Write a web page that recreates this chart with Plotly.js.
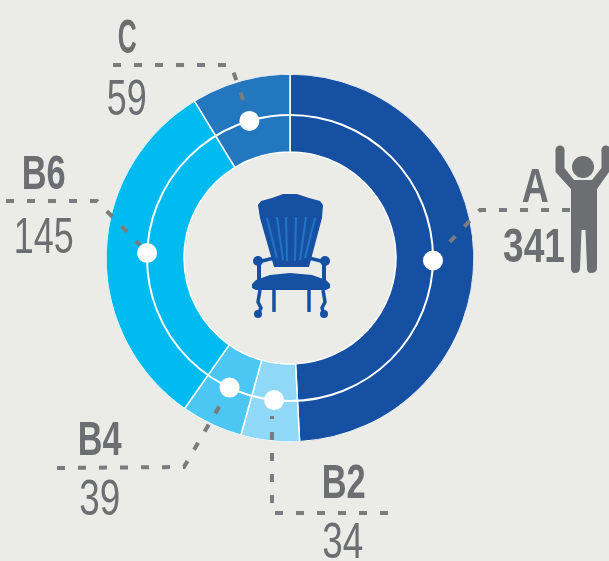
<!DOCTYPE html>
<html><head><meta charset="utf-8">
<script src="https://cdn.plot.ly/plotly-3.0.0.min.js"></script>
<style>html,body{margin:0;padding:0;background:#EBEBE7}#chart{filter:blur(0.6px)}</style></head>
<body><div id="chart" style="width:609px;height:561px"></div>
<script>
const categories = ['A','B2','B4','B6','C'];
const counts = [341,34,39,145,59];
// Angular size of each sector as drawn in the picture (degrees)
const sectorDegrees = [177,18.5,19.5,113.7,31.3];
const dotAngles = [91,186.4,205,272,343.5];
const colors = ['#1650A3','#8FD8F8','#4CC7F4','#00BBF0','#2277BF'];
const INNER = 106, OUTER = 184, RING = 143;
const W = 609, H = 561, CX = 290, CY = 258;
const GREY = '#6D6E71';

const px = (x,y)=>`${(x/W).toFixed(4)},${(1-y/H).toFixed(4)}`;
const pathOf = pts => 'M'+pts.map(p=>px(p[0],p[1])).join(' L');
const svg = s => s.replace(/(-?[\d.]+),(-?[\d.]+)/g,(m,a,b)=>px(+a,+b));

let acc=0;
const mids = sectorDegrees.map(d=>{const m=acc+d/2;acc+=d;return m;});

const leaders = [
 [[113,65],[231,65],[246,108]],
 [[6,201],[97,201],[140,245]],
 [[570,210],[480,210],[444,248]],
 [[57,468],[184,467],[223,400]],
 [[388,513],[272,513],[272,416]]
];
const labelSpec = [
 {t:'C',x:127,y:36,b:1,w:19},{t:'59',x:127,y:98,w:40},
 {t:'B6',x:43,y:172,b:1,w:44},{t:'145',x:43,y:236,w:60},
 {t:'A',x:535,y:185,b:1,w:27},{t:'341',x:534,y:245,b:1,w:62},
 {t:'B4',x:100,y:439,b:1,w:44},{t:'39',x:100,y:498,w:41},
 {t:'B2',x:343,y:481,b:1,w:44},{t:'34',x:343,y:541,w:41}
];
const annotations = labelSpec.map(l=>({
 text:l.b?`<b>${l.t}</b>`:l.t, showarrow:false, xref:'paper', yref:'paper',
 x:l.x/W, y:1-l.y/H, xanchor:'center', yanchor:'middle',
 font:{family:'"Liberation Sans",sans-serif',size:l.b?48:50,color:GREY}
}));

const shapes = [];
shapes.push({type:'circle',xref:'paper',yref:'paper',x0:(CX-RING)/W,x1:(CX+RING)/W,
 y0:1-(CY+RING)/H,y1:1-(CY-RING)/H,line:{color:'#fff',width:2},fillcolor:'rgba(0,0,0,0)'});
leaders.forEach(l=>shapes.push({type:'path',xref:'paper',yref:'paper',path:pathOf(l),
 line:{color:'#7a7b7d',width:4,dash:'8px,13px'}}));

const BLUE='#1650A3', RIB='#2374C4';
const filled = (d,c)=>shapes.push({type:'path',xref:'paper',yref:'paper',path:svg(d),fillcolor:c,line:{width:0}});
const stroked = (d,c,w)=>shapes.push({type:'path',xref:'paper',yref:'paper',path:svg(d),line:{color:c,width:w}});
const dot = (x,y,r,c)=>shapes.push({type:'circle',xref:'paper',yref:'paper',x0:(x-r)/W,x1:(x+r)/W,y0:1-(y+r)/H,y1:1-(y-r)/H,fillcolor:c,line:{width:0}});
// Chair
filled('M258,205 L261,201 L272,198 L283,194 L297,194 L309,198 L320,201 L323,205 L322,218 L309,267 L274,267 L260,218 Z',BLUE);
[[267,218,277,258],[277,217,283,260],[286,217,287,261],[296,217,295,261],[306,217,300,260],[315,218,305,258]].forEach(r=>
 stroked(`M${r[0]},${r[1]} L${r[2]},${r[3]}`,RIB,2));
stroked('M258,262 L274,258',BLUE,3.5); stroked('M325,262 L309,258',BLUE,3.5);
stroked('M259,262 L259,282',BLUE,4); stroked('M324,262 L324,282',BLUE,4);
filled('M252,284 L256,280 L270,275 L290,273 L312,275 L326,280 L330,284 L330,288 L326,290 L256,290 L252,288 Z',BLUE);
stroked('M260,290 L258,302 L261,308 L258,314',BLUE,3.5);
stroked('M323,290 L325,302 L322,308 L324,314',BLUE,3.5);
stroked('M274,290 L274,312',BLUE,3.5); stroked('M309,290 L309,312',BLUE,3.5);
dot(258,261,5,BLUE); dot(325,261,5,BLUE); dot(258,314,4,BLUE); dot(324,314,4,BLUE);
// Person
dot(583,167,11,GREY);
dot(560,150,4.5,GREY); dot(606,150,4.5,GREY);
filled('M555.5,150 L564.5,150 L564.5,168 L574,180 L592,180 L601.5,168 L601.5,150 L609,150 L609,172 L597,189 L597,268 Q597,273 591,273 Q587,273 587,268 L585.5,230 L581.5,230 L580,268 Q580,273 575,273 Q571,273 571,268 L571,189 L555.5,172 Z',GREY);

const data = [
 {type:'barpolar',theta:mids,width:sectorDegrees,base:categories.map(()=>INNER),
  r:categories.map(()=>OUTER-INNER),text:categories,customdata:counts,
  marker:{color:colors,line:{color:'#fff',width:1.5}},hoverinfo:'text+theta'},
 {type:'scatterpolar',mode:'markers',theta:dotAngles,r:categories.map(()=>RING),
  marker:{color:'#fff',size:20},hoverinfo:'skip'}
];
const layout = {
 width:W,height:H,margin:{l:0,r:0,t:0,b:0},paper_bgcolor:'#EBEBE7',showlegend:false,
 polar:{domain:{x:[(CX-OUTER)/W,(CX+OUTER)/W],y:[1-(CY+OUTER)/H,1-(CY-OUTER)/H]},
  bgcolor:'rgba(0,0,0,0)',
  radialaxis:{visible:false,range:[0,OUTER]},
  angularaxis:{visible:false,direction:'clockwise',rotation:90}},
 annotations,shapes
};
Plotly.newPlot('chart',data,layout,{displayModeBar:false,staticPlot:true}).then(()=>{
 // Condense the label glyphs horizontally to the narrow face of the original
 document.querySelectorAll('.annotation-text').forEach(t=>{
  const spec = labelSpec.find(l=>l.t===t.textContent.trim());
  if(!spec) return;
  const b = t.getBBox(), c = b.x+b.width/2;
  t.setAttribute('transform',`translate(${c},0) scale(${spec.w/b.width},1) translate(${-c},0)`);
 });
});
</script></body></html>
